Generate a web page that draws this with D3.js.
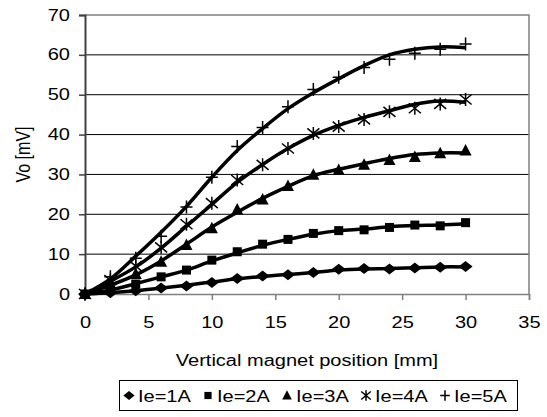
<!DOCTYPE html>
<html><head><meta charset="utf-8">
<script src="https://d3js.org/d3.v7.min.js"></script>
<style>body{margin:0;background:#fff}svg{display:block}text{font-family:"Liberation Sans",Arial,sans-serif;fill:#000}</style>
</head><body><svg id="c" width="547" height="417"></svg>
<script>
const positions = [0,2,4,6,8,10,12,14,16,18,20,22,24,26,28,30];
const seriesNames = ["Ie=1A","Ie=2A","Ie=3A","Ie=4A","Ie=5A"];
const markerTypes = ["diamond","square","triangle","star","plus"];
// measured points (markers)
const ie1 = [0,0.3,0.8,1.5,2.0,2.9,3.9,4.5,4.8,5.4,6.2,6.4,6.3,6.5,6.7,6.9];
const ie2 = [0,1.0,2.5,4.3,6.0,8.5,10.6,12.5,13.7,15.2,15.9,16.1,16.7,17.3,17.1,17.9];
const ie3 = [0,2.5,5.0,8.1,12.3,16.5,21.2,23.7,27.1,29.9,31.1,32.4,33.6,34.4,35.3,36.0];
const ie4 = [0,3.5,7.0,11.7,17.5,22.8,28.6,32.4,36.5,40.3,42.0,43.8,45.7,46.6,47.7,48.8];
const ie5 = [0,4.3,9.0,14.5,21.8,29.3,37.0,41.8,47.0,51.3,54.4,56.8,58.9,60.4,61.4,62.7];
// smoothed trend lines
const fit1 = [0,0.3,0.8,1.5,2.2,3.0,3.8,4.4,4.9,5.4,6.0,6.3,6.4,6.6,6.8,6.8];
const fit2 = [0,1.0,2.6,4.3,6.0,8.3,10.3,12.2,13.7,15.0,15.9,16.3,16.9,17.2,17.3,17.6];
const fit3 = [0,2.2,4.8,8.3,12.5,16.8,20.5,24.0,27.0,29.7,31.3,32.7,34.0,35.0,35.4,35.4];
const fit4 = [0,3.2,6.8,11.5,17.0,22.5,28.0,32.5,36.5,39.8,42.3,44.3,46.0,47.6,48.4,48.1];
const fit5 = [0,3.8,9.5,15.5,22.0,29.3,36.0,41.5,46.5,50.5,54.0,57.3,60.0,61.4,62.0,61.8];
const xTicks = [0,5,10,15,20,25,30,35];
const yTicks = [0,10,20,30,40,50,60,70];

const points = [ie1,ie2,ie3,ie4,ie5];
const fits = [fit1,fit2,fit3,fit4,fit5];

const SX = 1.25; // horizontal stretch of the original picture's text
const FS = 16;
const svg = d3.select("#c");
const L=85,R=529,T=15,B=294;
const x = d3.scaleLinear().domain([0,35]).range([L,R]);
const y = d3.scaleLinear().domain([0,70]).range([B,T]);

// gridlines
svg.append("g").selectAll("line").data(yTicks.filter(v=>v>0&&v<70)).join("line")
  .attr("x1",L).attr("x2",R).attr("y1",d=>y(d)).attr("y2",d=>y(d))
  .attr("stroke","#000").attr("stroke-width",1);
// plot border (top/right)
svg.append("path").attr("d",`M${L},${y(70)}H${R}V${B}`).attr("fill","none").attr("stroke","#808080").attr("stroke-width",1.5);

// axes
const xAxis = d3.axisBottom(x).tickValues(xTicks).tickSize(6).tickPadding(17);
const gx = svg.append("g").attr("transform",`translate(0,${B})`).call(xAxis);
gx.select(".domain").attr("stroke","#808080").attr("stroke-width",1.5);
gx.selectAll(".tick line").attr("stroke","#808080").attr("stroke-width",1.5);
gx.selectAll("text").attr("font-size",FS).attr("font-family","Liberation Sans, Arial").attr("transform",`scale(${SX},1)`);

const yAxis = d3.axisLeft(y).tickValues(yTicks).tickSize(6).tickPadding(9);
const gy = svg.append("g").attr("transform",`translate(${L},0)`).call(yAxis);
gy.select(".domain").attr("stroke","#404040").attr("stroke-width",2);
gy.selectAll(".tick line").attr("stroke","#404040").attr("stroke-width",1.5);
gy.selectAll("text").attr("font-size",FS).attr("font-family","Liberation Sans, Arial")
  .attr("x",-15/SX).attr("transform",`scale(${SX},1)`);

svg.append("text").attr("transform",`translate(${x(17.5)},366) scale(${SX},1)`).attr("text-anchor","middle").attr("font-size",FS).text("Vertical magnet position [mm]");
svg.append("text").attr("transform",`translate(30,${(T+B)/2}) scale(${SX},1) rotate(-90)`).attr("text-anchor","middle").attr("font-size",FS).text("Vo [mV]");

// lines
const line = d3.line().x((d,i)=>x(positions[i])).y(d=>y(d)).curve(d3.curveCatmullRom);
svg.append("g").selectAll("path").data(fits).join("path")
  .attr("d",line).attr("fill","none").attr("stroke","#000").attr("stroke-width",3.5).attr("stroke-linejoin","round");

function marker(g,type,cx,cy,s){
  const k=s||1;
  if(type==="diamond") g.append("path").attr("d",`M${cx},${cy-5.5*k}L${cx+7*k},${cy}L${cx},${cy+5.5*k}L${cx-7*k},${cy}Z`).attr("fill","#000");
  else if(type==="square") g.append("rect").attr("x",cx-4.5*k).attr("y",cy-4.5*k).attr("width",9*k).attr("height",9*k).attr("fill","#000");
  else if(type==="triangle") g.append("path").attr("d",`M${cx},${cy-6.5*k}L${cx+6*k},${cy+5*k}L${cx-6*k},${cy+5*k}Z`).attr("fill","#000");
  else if(type==="star") g.append("path").attr("d",`M${cx-6*k},${cy-5*k}L${cx+6*k},${cy+5*k}M${cx+6*k},${cy-5*k}L${cx-6*k},${cy+5*k}M${cx},${cy-6.5*k}V${cy+6.5*k}`).attr("stroke","#000").attr("stroke-width",1.5).attr("fill","none");
  else if(type==="plus") g.append("path").attr("d",`M${cx-6*k},${cy}H${cx+6*k}M${cx},${cy-6.5*k}V${cy+6.5*k}`).attr("stroke","#000").attr("stroke-width",1.5).attr("fill","none");
}
const mg = svg.append("g");
points.forEach((arr,si)=>{
  arr.forEach((v,i)=>marker(mg,markerTypes[si],x(positions[i]),y(v)));
});

// legend
const lg = svg.append("g");
lg.append("rect").attr("x",119.5).attr("y",380.5).attr("width",398).attr("height",30).attr("fill","#fff").attr("stroke","#000").attr("stroke-width",1);
const legX = [129,208,287,366,445];
seriesNames.forEach((n,i)=>{
  marker(lg,markerTypes[i],legX[i],395.5,0.8);
  lg.append("text").attr("transform",`translate(${legX[i]+9},401.5) scale(${SX},1)`).attr("font-size",FS).text(n);
});
</script></body></html>
